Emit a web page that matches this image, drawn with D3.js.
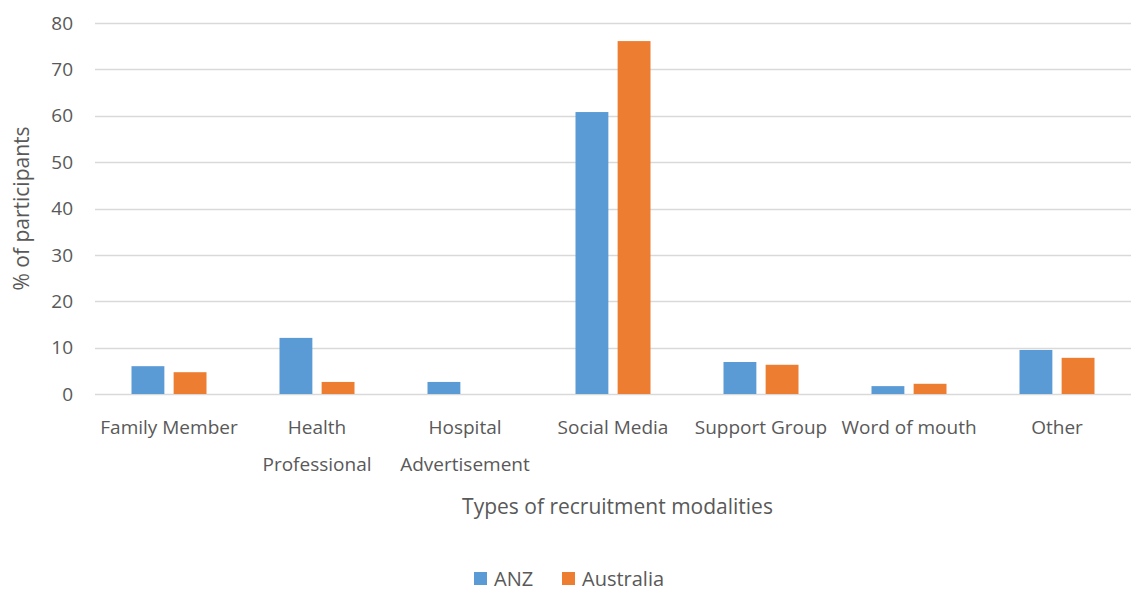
<!DOCTYPE html>
<html lang="en">
<head>
<meta charset="utf-8">
<title>Recruitment modalities</title>
<script src="https://d3js.org/d3.v7.min.js"></script>
<style>
  body { margin: 0; background: #fff; }
  text { font-family: "Open Sans", "Noto Sans", sans-serif; fill: #595959; }
</style>
</head>
<body>
<script>
// chart data
var categories = [["Family Member"], ["Health", "Professional"], ["Hospital", "Advertisement"],
                  ["Social Media"], ["Support Group"], ["Word of mouth"], ["Other"]];
var seriesNames = ["ANZ", "Australia"];
var anz = [6.0, 12.1, 2.6, 60.8, 6.9, 1.7, 9.5];
var australia = [4.7, 2.6, 0, 76.1, 6.3, 2.2, 7.8];
var yTicks = [0, 10, 20, 30, 40, 50, 60, 70, 80];
var colors = ["#5B9BD5", "#ED7D31"];

var width = 1132, height = 591;
var margin = {top: 23, right: 1, bottom: 197, left: 95};

var svg = d3.select("body").append("svg")
    .attr("width", width)
    .attr("height", height);

var x = d3.scaleBand()
    .domain(d3.range(categories.length))
    .range([margin.left, width - margin.right]);

// two bars per group, centred in the band
var groupW = 75;
var x1 = d3.scaleBand()
    .domain(seriesNames)
    .range([(x.bandwidth() - groupW) / 2, (x.bandwidth() + groupW) / 2])
    .paddingInner(0.22);

var y = d3.scaleLinear()
    .domain([0, 80])
    .range([height - margin.bottom, margin.top]);

// gridlines
svg.append("g")
  .selectAll("line")
  .data(yTicks)
  .enter().append("line")
    .attr("x1", margin.left)
    .attr("x2", width - margin.right)
    .attr("y1", function(d) { return Math.round(y(d)) + 0.5; })
    .attr("y2", function(d) { return Math.round(y(d)) + 0.5; })
    .attr("stroke", "#d9d9d9")
    .attr("stroke-width", 1.5);

// y tick labels
svg.append("g")
  .selectAll("text")
  .data(yTicks)
  .enter().append("text")
    .attr("x", 73)
    .attr("y", function(d) { return y(d); })
    .attr("dy", "0.35em")
    .attr("text-anchor", "end")
    .style("font-size", "19px")
    .text(function(d) { return d; });

// bars
var rows = categories.map(function(c, i) {
  return [{s: "ANZ", v: anz[i], c: colors[0]}, {s: "Australia", v: australia[i], c: colors[1]}];
});

var groups = svg.append("g")
  .selectAll("g")
  .data(rows)
  .enter().append("g")
    .attr("transform", function(d, i) { return "translate(" + x(i) + ",0)"; });

groups.selectAll("rect")
  .data(function(d) { return d; })
  .enter().append("rect")
    .attr("x", function(d) { return x1(d.s); })
    .attr("width", x1.bandwidth())
    .attr("y", function(d) { return y(d.v); })
    .attr("height", function(d) { return y(0) - y(d.v); })
    .attr("fill", function(d) { return d.c; });

// category labels
var catLabels = svg.append("g")
  .selectAll("text")
  .data(categories)
  .enter().append("text")
    .attr("x", function(d, i) { return x(i) + x.bandwidth() / 2; })
    .attr("y", 434)
    .attr("text-anchor", "middle")
    .style("font-size", "19px");

catLabels.selectAll("tspan")
  .data(function(d) { return d; })
  .enter().append("tspan")
    .attr("x", function() { return d3.select(this.parentNode).attr("x"); })
    .attr("dy", function(d, i) { return i === 0 ? 0 : 37; })
    .text(function(d) { return d; });

// axis titles
svg.append("text")
    .attr("transform", "translate(29," + ((margin.top + y(0)) / 2) + ") rotate(-90)")
    .attr("text-anchor", "middle")
    .style("font-size", "21px")
    .text("% of participants");

svg.append("text")
    .attr("x", (margin.left + width) / 2 + 4)
    .attr("y", 514)
    .attr("text-anchor", "middle")
    .style("font-size", "21px")
    .text("Types of recruitment modalities");

// legend
var legendX = [474, 562];
var legend = svg.append("g")
  .selectAll("g")
  .data(seriesNames)
  .enter().append("g")
    .attr("transform", function(d, i) { return "translate(" + legendX[i] + ",572)"; });

legend.append("rect")
    .attr("width", 13)
    .attr("height", 13)
    .attr("fill", function(d, i) { return colors[i]; });

legend.append("text")
    .attr("x", 20)
    .attr("y", 7)
    .attr("dy", "0.35em")
    .style("font-size", "20px")
    .text(function(d) { return d; });
</script>
</body>
</html>
